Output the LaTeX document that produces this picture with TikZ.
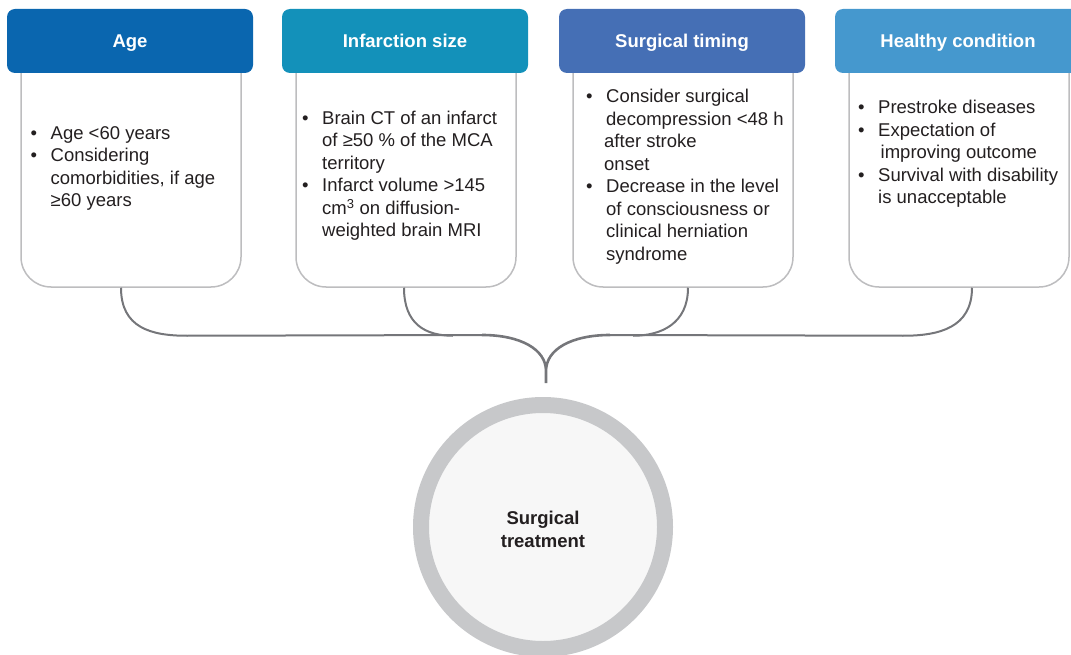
\documentclass[tikz,border=0pt]{standalone}
\usepackage{fontspec}
\setmainfont{Liberation Sans}
\usetikzlibrary{positioning}

\definecolor{agecol}{HTML}{0A66AF}
\definecolor{sizecol}{HTML}{1391BA}
\definecolor{timecol}{HTML}{456FB5}
\definecolor{healthcol}{HTML}{4598CE}
\definecolor{boxgray}{HTML}{BDBDBF}
\definecolor{linkgray}{HTML}{75767A}
\definecolor{ringgray}{HTML}{C7C8CA}
\definecolor{textcol}{HTML}{231F20}

\begin{document}
\begin{tikzpicture}
        [x=1pt, y=-1pt,
         head/.style={rounded corners=8pt, minimum width=246pt, minimum height=64pt,
                inner sep=0pt, text height=13.4pt, text depth=0pt, text=white,
                font=\fontsize{18.5}{22}\selectfont\bfseries},
         body/.style={draw=boxgray, line width=1.5pt, rounded corners=30pt, fill=white,
                minimum width=220pt, minimum height=247pt, inner sep=0pt},
         items/.style={anchor=base west, inner sep=0pt, text=textcol,
                font=\fontsize{18.5}{22.5}\selectfont},
         branch/.style={draw=linkgray, line width=2pt},
         brace/.style={draw=linkgray, line width=2.6pt},
         ring/.style={circle, draw=ringgray, line width=16pt, fill=black!3,
                minimum size=244pt, inner sep=0pt},
         ringtext/.style={align=center, text=textcol, inner sep=0pt,
                font=\fontsize{18.5}{23}\selectfont\bfseries}]

        \useasboundingbox (0,0) rectangle (1071,655);

        % white boxes first, the coloured heads hide their tops
        \node[body] (age body)    at (131,163.5) {};
        \node[body] (size body)   at (406,163.5) {};
        \node[body] (timing body) at (683,163.5) {};
        \node[body] (health body) at (959,163.5) {};

        \node[head, fill=agecol]    (age)    at (130,41) {Age};
        \node[head, fill=sizecol]   (size)   at (405,41) {Infarction size};
        \node[head, fill=timecol]   (timing) at (682,41) {Surgical timing};
        \node[head, fill=healthcol] (health) at (958,41) {Healthy condition};

        \node[items] (age items) at (30.5,139.3) {%
                \begin{tabular}[t]{@{}p{20pt}@{}l@{}}
                \textbullet & Age <60 years\\
                \textbullet & Considering\\
                            & comorbidities, if age\\
                            & ≥60 years
                \end{tabular}};
        \node[items] (size items) at (302,124.3) {%
                \begin{tabular}[t]{@{}p{20pt}@{}l@{}}
                \textbullet & Brain CT of an infarct\\
                            & of ≥50 \% of the MCA\\
                            & territory\\
                \textbullet & Infarct volume >145\\
                            & cm\textsuperscript{3} on diffusion-\\
                            & weighted brain MRI
                \end{tabular}};
        \node[items] (timing items) at (586,102.7) {%
                \begin{tabular}[t]{@{}p{20pt}@{}l@{}}
                \textbullet & Consider surgical\\
                            & decompression <48 h\\
                            & \hspace*{-2pt}after stroke\\
                            & \hspace*{-2pt}onset\\
                \textbullet & Decrease in the level\\
                            & of consciousness or\\
                            & clinical herniation\\
                            & syndrome
                \end{tabular}};
        \node[items] (health items) at (858,114) {%
                \begin{tabular}[t]{@{}p{20pt}@{}l@{}}
                \textbullet & Prestroke diseases\\
                \textbullet & Expectation of\\
                            & \hspace*{2.5pt}improving outcome\\
                \textbullet & Survival with disability\\
                            & is unacceptable
                \end{tabular}};

        % joining brace above the circle
        \coordinate (tip) at (546,383);
        \draw[brace] (tip) -- ++(0,-12) coordinate (fork)
                (fork) .. controls +(0,-22) and +(38,0) .. ++(-64,-36) coordinate (left end)
                (fork) .. controls +(0,-22) and +(-38,0) .. ++(64,-36) coordinate (right end);

        \draw[branch] ([xshift=-10pt]age body.south)
                .. controls +(0,40) and +(-36,0) .. ++(66,48) -- (left end);
        \draw[branch] ([xshift=-2pt]size body.south)
                .. controls +(0,36) and +(-28,0) .. ++(49,48);
        \draw[branch] ([xshift=5pt]timing body.south)
                .. controls +(0,36) and +(28,0) .. ++(-55,48);
        \draw[branch] ([xshift=13pt]health body.south)
                .. controls +(0,40) and +(36,0) .. ++(-69,48) -- (right end);

        \node[ring, label={[ringtext, yshift=-2.5pt]center:Surgical\\treatment}]
                (treatment) at (543,527) {};
\end{tikzpicture}
\end{document}
